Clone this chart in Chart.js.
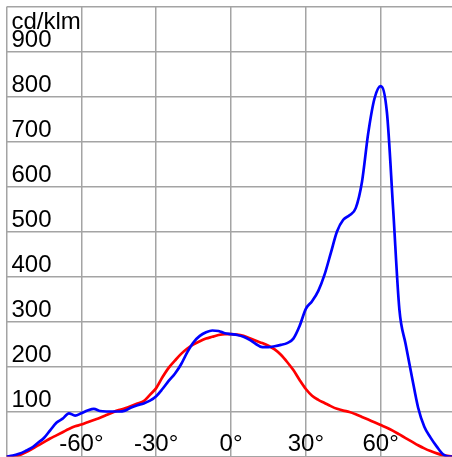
<!DOCTYPE html>
<html>
<head>
<meta charset="utf-8">
<script src="https://cdn.jsdelivr.net/npm/chart.js@4/dist/chart.umd.min.js"></script>
<style>
html,body{margin:0;padding:0;background:#fff;overflow:hidden;}
#wrap{width:460px;height:458px;}
</style>
</head>
<body>
<div id="wrap"><canvas id="c" width="460" height="458"></canvas></div>
<script>
const angles = [-90,-87.5,-85,-82.5,-80,-77.5,-75,-72.5,-70,-67.5,-65,-62.5,-60,-57.5,-55,-52.5,-50,-47.5,-45,-42.5,-40,-37.5,-35,-32.5,-30,-27.5,-25,-22.5,-20,-17.5,-15,-12.5,-10,-7.5,-5,-2.5,0,2.5,5,7.5,10,12.5,15,17.5,20,22.5,25,27.5,30,32.5,35,37.5,40,42.5,45,47.5,50,52.5,55,57.5,60,62.5,65,67.5,70,72.5,75,77.5,80,82.5,85,87.5,90];
const blueValues = [0,2,6,12,19,30,41,58,75,84,96,91,96,102,106,101,100,100,100,102,109,114,118,124,134,150,168,184,205,232,254,268,276,280,279,274,272,270,266,259,250,243,243,245,248,252,262,290,328,345,368,404,452,500,526,536,552,610,718,795,823,765,550,327,250,178,109,66,42,22,5,0,0];
const redValues = [0,0,3,9,16,24,32,40,47,54,61,67,71,76,81,86,92,98,103,107,112,118,123,137,152,176,197,213,228,240,249,256,262,266,270,272,272,271,268,263,257,252,246,238,226,210,192,170,150,135,126,119,112,106,102,99,94,88,82,76,70,64,57,49,41,33,25,18,12,7,3,1,0];
const xTickLabels = [[-60,'-60°'],[-30,'-30°'],[0,'0°'],[30,'30°'],[60,'60°']];
const yTickLabels = [100,200,300,400,500,600,700,800,900];
const unitLabel = 'cd/klm';

const FONT = '24px "Liberation Sans", Arial, sans-serif';

const labelPlugin = {
  id: 'labels',
  beforeDatasetsDraw(chart) {
    const ctx = chart.ctx;
    const xs = chart.scales.x, ys = chart.scales.y;
    ctx.save();
    ctx.font = FONT;
    ctx.fillStyle = '#000';
    ctx.textBaseline = 'alphabetic';
    ctx.textAlign = 'left';
    yTickLabels.forEach(v => {
      ctx.fillText(String(v), 11.5, ys.getPixelForValue(v) - 5);
    });
    ctx.fillText(unitLabel, 11.5, 28.5);
    ctx.textAlign = 'center';
    xTickLabels.forEach(([v, t]) => {
      ctx.fillText(t, xs.getPixelForValue(v), 451);
    });
    ctx.restore();
  }
};

new Chart(document.getElementById('c'), {
  type: 'line',
  data: {
    datasets: [
      {
        data: angles.map((a, i) => ({x: a, y: blueValues[i]})),
        borderColor: '#0000ff',
        borderWidth: 2.7,
        pointRadius: 0,
        cubicInterpolationMode: 'monotone',
        fill: false
      },
      {
        data: angles.map((a, i) => ({x: a, y: redValues[i]})),
        borderColor: '#ff0000',
        borderWidth: 2.7,
        pointRadius: 0,
        cubicInterpolationMode: 'monotone',
        fill: false
      }
    ]
  },
  options: {
    responsive: false,
    animation: false,
    devicePixelRatio: 1,
    layout: {padding: {left: 6.5, right: 4.5, top: 6.5, bottom: 1.5}},
    plugins: {legend: {display: false}, tooltip: {enabled: false}},
    scales: {
      x: {
        type: 'linear', min: -90, max: 90,
        ticks: {display: false, stepSize: 30},
        grid: {color: '#a4a4a4', lineWidth: 1.5, drawTicks: false},
        border: {display: false}
      },
      y: {
        type: 'linear', min: 0, max: 1000,
        ticks: {display: false, stepSize: 100},
        grid: {color: '#a4a4a4', lineWidth: 1.5, drawTicks: false},
        border: {display: false}
      }
    }
  },
  plugins: [labelPlugin]
});
</script>
</body>
</html>
